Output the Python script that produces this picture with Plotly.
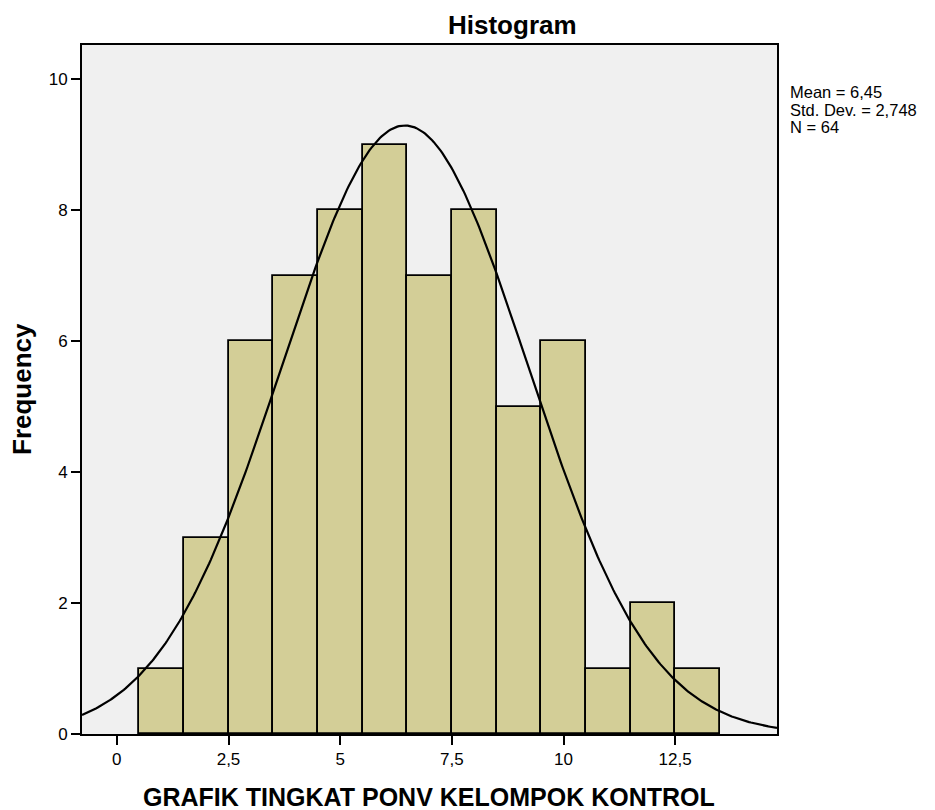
import numpy as np
import plotly.graph_objects as go

# Data
bin_centers = [1, 2, 3, 4, 5, 6, 7, 8, 9, 10, 11, 12, 13]
frequencies = [1, 3, 6, 7, 8, 9, 7, 8, 5, 6, 1, 2, 1]
bin_width = 1
mean_val = 6.45
std_val = 2.748
n_val = 64
x_tickvals = [0, 2.5, 5, 7.5, 10, 12.5]
x_ticktext = ["0", "2,5", "5", "7,5", "10", "12,5"]
y_tickvals = [0, 2, 4, 6, 8, 10]
stats_lines = ["Mean = 6,45", "Std. Dev. = 2,748", "N = 64"]

x_range = [-0.78, 14.78]
y_range = [0, 10.52]

OFF = 8  # page body margin offset
W, H = 935 - OFF, 810 - OFF
L, R, T, B = 82 - OFF, 777 - OFF, 45 - OFF, 734 - OFF
pw, ph = R - L, B - T

def px(x):
    return (x - OFF - L) / pw

def py(y):
    return (B - (y - OFF)) / ph

fig = go.Figure()
fig.add_trace(go.Bar(
    x=bin_centers, y=frequencies, width=bin_width,
    marker=dict(color="#D3CE97", line=dict(color="black", width=1.8)),
    showlegend=False, hoverinfo="x+y"
))

xs = np.linspace(x_range[0], x_range[1], 400)
ys = n_val * bin_width * np.exp(-0.5 * ((xs - mean_val) / std_val) ** 2) / (std_val * np.sqrt(2 * np.pi))
fig.add_trace(go.Scatter(x=xs, y=ys, mode="lines", line=dict(color="black", width=2.2),
                         showlegend=False, hoverinfo="skip"))

annotations = [
    dict(text="<b>Histogram</b>", x=px(512), y=py(25), xanchor="center", yanchor="middle",
         font=dict(size=26)),
    dict(text="<b>Frequency</b>", x=px(22), y=py(389), xanchor="center", yanchor="middle",
         textangle=-90, font=dict(size=26)),
    dict(text="<b>GRAFIK TINGKAT PONV KELOMPOK KONTROL</b>", x=px(429), y=py(797),
         xanchor="center", yanchor="middle", font=dict(size=25)),
]
for i, line in enumerate(stats_lines):
    annotations.append(dict(text=line, x=px(788), y=py(92 + 17.5 * i), xanchor="left",
                            yanchor="middle", align="left", font=dict(size=16.5)))
for a in annotations:
    a.update(xref="paper", yref="paper", showarrow=False)

fig.update_layout(
    width=W, height=H,
    margin=dict(l=L, r=W - R, t=T, b=H - B, autoexpand=False),
    paper_bgcolor="white", plot_bgcolor="#F0F0F0",
    bargap=0,
    font=dict(family="Liberation Sans, Arial, sans-serif", color="black"),
    annotations=annotations,
)
fig.update_xaxes(
    range=x_range, tickvals=x_tickvals, ticktext=x_ticktext, automargin=False,
    showgrid=False, zeroline=False, showline=True, linecolor="black", linewidth=2,
    mirror=True, ticks="outside", ticklen=9, tickwidth=2, tickcolor="black",
    tickfont=dict(size=17),
)
fig.update_yaxes(
    range=y_range, tickvals=y_tickvals, automargin=False,
    showgrid=False, zeroline=False, showline=True, linecolor="black", linewidth=2,
    mirror=True, ticks="outside", ticklen=9, tickwidth=2, tickcolor="black",
    tickfont=dict(size=17),
)

fig.write_html("out.html")
